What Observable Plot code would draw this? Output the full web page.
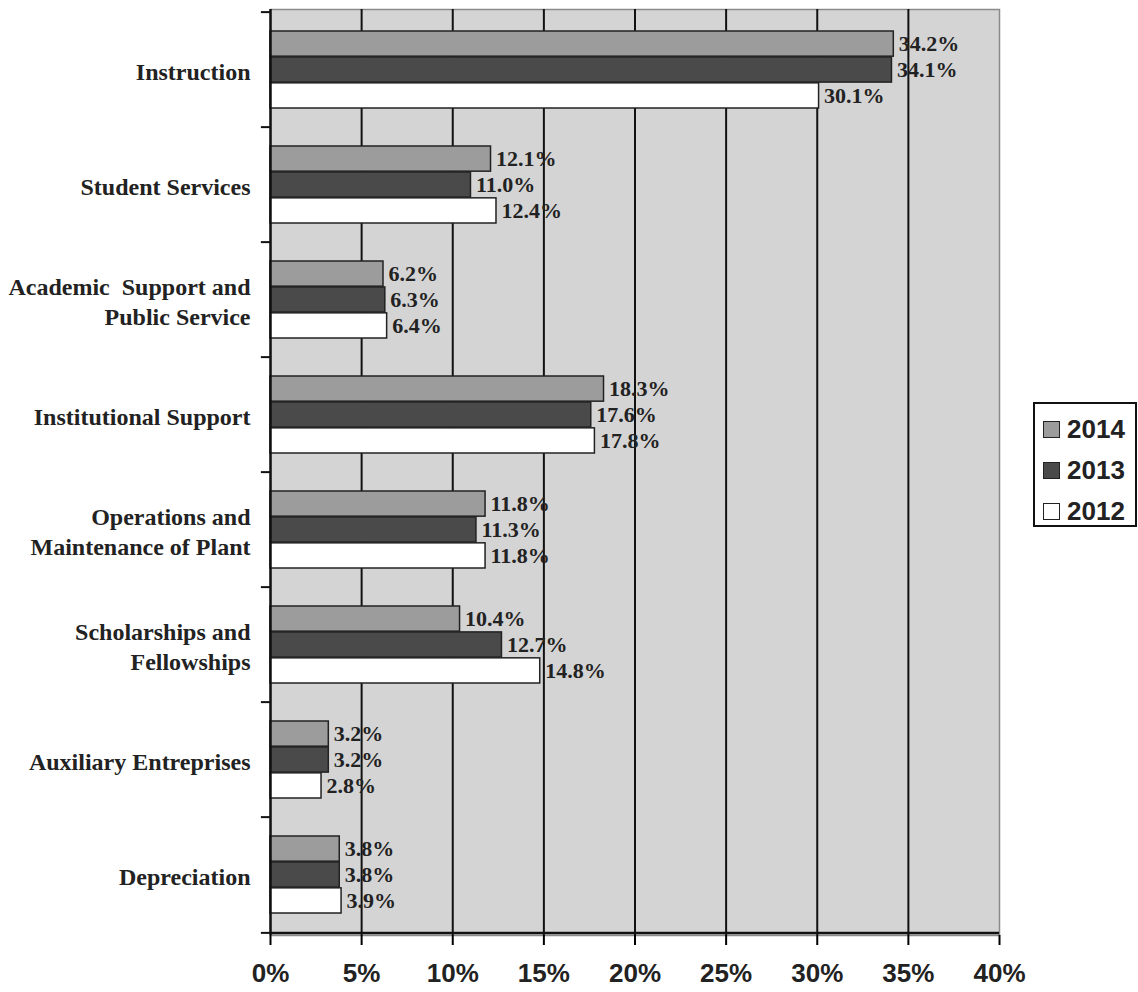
<!DOCTYPE html>
<html>
<head>
<meta charset="utf-8">
<script src="https://cdn.jsdelivr.net/npm/d3@7"></script>
<script src="https://cdn.jsdelivr.net/npm/@observablehq/plot@0.6"></script>
<style>
  body { margin: 0; background: #fff; }
  #wrap { position: relative; width: 1138px; height: 992px; }
  #legend {
    position: absolute; left: 1033px; top: 402px; width: 104px; height: 125px;
    border: 2px solid #111; box-sizing: border-box; background: #fff;
    font: bold 26px "Liberation Sans", Arial, sans-serif; color: #222;
    padding-top: 5px;
  }
  .item { display: flex; align-items: center; height: 41px; padding-left: 8px; }
  .sw { width: 17px; height: 17px; border: 1.5px solid #222; margin-right: 7px; box-sizing: border-box; }
</style>
</head>
<body>
<div id="wrap"></div>
<script>
const categories = [
  "Instruction",
  "Student Services",
  "Academic Support and Public Service",
  "Institutional Support",
  "Operations and Maintenance of Plant",
  "Scholarships and Fellowships",
  "Auxiliary Entreprises",
  "Depreciation"
];
const categoryLabels = [
  "Instruction",
  "Student Services",
  "Academic  Support and\nPublic Service",
  "Institutional Support",
  "Operations and\nMaintenance of Plant",
  "Scholarships and\nFellowships",
  "Auxiliary Entreprises",
  "Depreciation"
];
const years = ["2014", "2013", "2012"];
const values2014 = [34.2, 12.1, 6.2, 18.3, 11.8, 10.4, 3.2, 3.8];
const values2013 = [34.1, 11.0, 6.3, 17.6, 11.3, 12.7, 3.2, 3.8];
const values2012 = [30.1, 12.4, 6.4, 17.8, 11.8, 14.8, 2.8, 3.9];
const xTicks = [0, 5, 10, 15, 20, 25, 30, 35, 40];
const gridTicks = [5, 10, 15, 20, 25, 30, 35];
const yearColors = {"2014": "#9c9c9c", "2013": "#4a4a4a", "2012": "#ffffff"};

const seriesValues = [values2014, values2013, values2012];
const rows = [];
years.forEach((yr, i) => {
  categories.forEach((c, j) => rows.push({category: c, year: yr, value: seriesValues[i][j], idx: i}));
});

const W = 1138, H = 992;
const mTop = 9, mBottom = 57, mLeft = 270, mRight = 139;
const step = (H - mTop - mBottom) / categories.length;
const pad = 19;
const bh = (step - 2 * pad) / 3;

const labelMap = new Map(categories.map((c, i) => [c, categoryLabels[i]]));

const marks = [
  Plot.frame({fill: "#d4d4d4", stroke: "#8a8a8a", strokeWidth: 1.5}),
  Plot.ruleX(gridTicks, {stroke: "#111", strokeWidth: 2})
];
years.forEach((yr, i) => {
  const data = rows.filter(d => d.year === yr);
  marks.push(Plot.barX(data, {
    x: "value", y: "category", fill: yearColors[yr], stroke: "#222", strokeWidth: 1.5,
    insetTop: pad + i * bh, insetBottom: step - pad - (i + 1) * bh
  }));
});
years.forEach((yr, i) => {
  const data = rows.filter(d => d.year === yr);
  marks.push(Plot.text(data, {
    x: "value", y: "category", text: d => d.value.toFixed(1) + "%",
    dx: 5, dy: (i - 1) * bh, textAnchor: "start",
    fontSize: 22, fontWeight: "bold", fontFamily: "'Liberation Serif', 'Times New Roman', serif", fill: "#222"
  }));
});
marks.push(
  Plot.text(categories, {
    x: 0, y: d => d, text: d => labelMap.get(d), dx: -20, textAnchor: "end", lineHeight: 1.25,
    fontSize: 24, fontWeight: "bold", fontFamily: "'Liberation Serif', 'Times New Roman', serif", fill: "#222"
  }),
  Plot.ruleX([0], {stroke: "#111", strokeWidth: 2.5}),
  Plot.ruleY([categories[categories.length - 1]], {x1: 0, x2: 40, dy: step / 2, stroke: "#111", strokeWidth: 2.5}),
  Plot.ruleY(categories, {x1: -0.5, x2: 0, dy: -step / 2, stroke: "#111", strokeWidth: 2}),
  Plot.ruleY([categories[categories.length - 1]], {x1: -0.5, x2: 0, dy: step / 2, stroke: "#111", strokeWidth: 2}),
  Plot.axisX({
    ticks: xTicks, tickFormat: d => d + "%", tickSize: 10, tickPadding: 18, strokeWidth: 2, label: null,
    fontSize: 26, fontWeight: "bold", fontFamily: "'Liberation Sans', Arial, sans-serif", fill: "#222"
  })
);

const chart = Plot.plot({
  width: W, height: H,
  marginTop: mTop, marginBottom: mBottom, marginLeft: mLeft, marginRight: mRight,
  x: {domain: [0, 40], axis: null, label: null},
  y: {domain: categories, padding: 0, axis: null},
  style: {background: "#fff", overflow: "visible"},
  marks
});
const wrap = document.getElementById("wrap");
wrap.appendChild(chart);

const legend = document.createElement("div");
legend.id = "legend";
years.forEach(yr => {
  const item = document.createElement("div");
  item.className = "item";
  const sw = document.createElement("span");
  sw.className = "sw";
  sw.style.background = yearColors[yr];
  const t = document.createElement("span");
  t.textContent = yr;
  item.appendChild(sw);
  item.appendChild(t);
  legend.appendChild(item);
});
wrap.appendChild(legend);
</script>
</body>
</html>
